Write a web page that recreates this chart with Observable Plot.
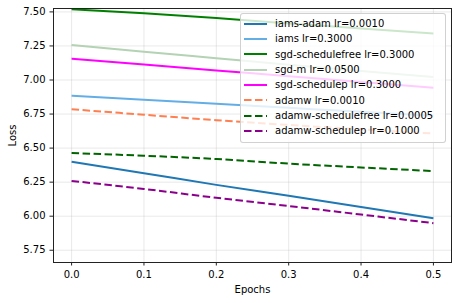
<!DOCTYPE html>
<html>
<head>
<meta charset="utf-8">
<script src="https://cdn.jsdelivr.net/npm/d3@7"></script>
<script src="https://cdn.jsdelivr.net/npm/@observablehq/plot@0.6"></script>
<style>
  html, body { margin: 0; padding: 0; background: white; }
  #chart { position: relative; width: 459px; height: 303px; font-family: "DejaVu Sans", sans-serif; }
  #legend { position: absolute; left: 240px; top: 13px; width: 204px; height: 126px;
    background: rgba(255,255,255,0.8); border: 1px solid rgba(204,204,204,0.9); border-radius: 3px;
    padding-top: 2px; box-sizing: content-box; }
  .row { height: 15.33px; display: flex; align-items: center; font-size: 10px; color: #000; white-space: nowrap; }
  .row svg { margin-left: 3px; margin-right: 8px; flex: none; }
</style>
</head>
<body>
<div id="chart"></div>
<script>
const epochs = [0, 0.1, 0.2, 0.3, 0.4, 0.5];
const seriesLabels = [
  "iams-adam lr=0.0010",
  "iams lr=0.3000",
  "sgd-schedulefree lr=0.3000",
  "sgd-m lr=0.0500",
  "sgd-schedulep lr=0.3000",
  "adamw lr=0.0010",
  "adamw-schedulefree lr=0.0005",
  "adamw-schedulep lr=0.1000"
];
const iamsAdamLoss = [6.400, 6.316, 6.230, 6.150, 6.068, 5.985];
const iamsLoss = [6.885, 6.855, 6.826, 6.796, 6.766, 6.737];
const sgdScheduleFreeLoss = [7.520, 7.490, 7.455, 7.415, 7.378, 7.341];
const sgdMLoss = [7.257, 7.208, 7.160, 7.112, 7.066, 7.022];
const sgdSchedulePLoss = [7.157, 7.113, 7.070, 7.028, 6.985, 6.944];
const adamwLoss = [6.785, 6.745, 6.705, 6.670, 6.638, 6.607];
const adamwScheduleFreeLoss = [6.464, 6.444, 6.420, 6.386, 6.358, 6.331];
const adamwSchedulePLoss = [6.259, 6.200, 6.135, 6.075, 6.012, 5.949];
const xTicks = [0, 0.1, 0.2, 0.3, 0.4, 0.5];
const yTicks = [5.75, 6.00, 6.25, 6.50, 6.75, 7.00, 7.25, 7.50];

const allLoss = [iamsAdamLoss, iamsLoss, sgdScheduleFreeLoss, sgdMLoss, sgdSchedulePLoss, adamwLoss, adamwScheduleFreeLoss, adamwSchedulePLoss];

// styles (kept apart from the data)
const styles = [
  {stroke: "#1f77b4", dash: null},
  {stroke: "#64aee6", dash: null},
  {stroke: "#008000", dash: null},
  {stroke: "#b4d2b4", dash: null},
  {stroke: "#ff00ff", dash: null},
  {stroke: "#ff7f50", dash: "7.5,3.5"},
  {stroke: "#006400", dash: "7.5,3.5"},
  {stroke: "#8b008b", dash: "7.5,3.5"}
];

const rows = seriesLabels.map((name, i) => epochs.map((e, j) => ({series: name, epoch: e, loss: allLoss[i][j]})));

const lineMarks = rows.map((data, i) => Plot.line(data, {
  x: "epoch", y: "loss", stroke: styles[i].stroke, strokeWidth: 2,
  strokeDasharray: styles[i].dash || undefined, strokeLinecap: "butt", curve: "monotone-x"
}));

const plot = Plot.plot({
  width: 459,
  height: 303,
  marginLeft: 53,
  marginRight: 8,
  marginTop: 8,
  marginBottom: 41,
  style: {fontFamily: "DejaVu Sans", fontSize: "10px", color: "#000", background: "white", overflow: "visible"},
  x: {domain: [-0.025, 0.525]},
  y: {domain: [5.66, 7.525]},
  marks: [
    Plot.gridX(xTicks, {stroke: "#b0b0b0", strokeOpacity: 0.35, strokeWidth: 0.8}),
    Plot.gridY(yTicks, {stroke: "#b0b0b0", strokeOpacity: 0.35, strokeWidth: 0.8}),
    ...lineMarks,
    Plot.axisX(xTicks, {tickFormat: d3.format(".1f"), tickSize: 3.5, tickPadding: 5, label: "Epochs", labelAnchor: "center", labelArrow: "none", labelOffset: 30, stroke: "#222"}),
    Plot.axisY(yTicks, {tickFormat: d3.format(".2f"), tickSize: 3.5, tickPadding: 4.5, label: "Loss", labelAnchor: "center", labelArrow: "none", labelOffset: 45, stroke: "#222"}),
    Plot.frame({stroke: "#222", strokeWidth: 1})
  ]
});

const chart = document.getElementById("chart");
chart.appendChild(plot);

const legend = document.createElement("div");
legend.id = "legend";
seriesLabels.forEach((name, i) => {
  const row = document.createElement("div");
  row.className = "row";
  const svg = d3.create("svg").attr("width", 23).attr("height", 6);
  svg.append("line").attr("x1", 0).attr("x2", 23).attr("y1", 3).attr("y2", 3)
    .attr("stroke", styles[i].stroke).attr("stroke-width", 2)
    .attr("stroke-dasharray", styles[i].dash || null);
  row.appendChild(svg.node());
  const span = document.createElement("span");
  span.textContent = name;
  row.appendChild(span);
  legend.appendChild(row);
});
chart.appendChild(legend);
</script>
</body>
</html>
